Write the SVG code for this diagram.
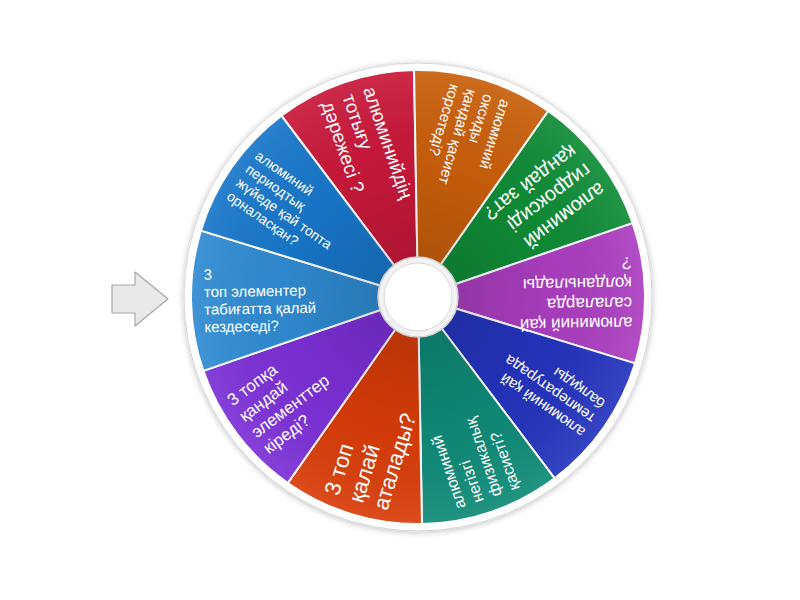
<svg xmlns="http://www.w3.org/2000/svg" width="800" height="600" viewBox="0 0 800 600">
<defs>
<radialGradient id="shade" cx="418" cy="297" r="227" gradientUnits="userSpaceOnUse">
<stop offset="0.15" stop-color="#000" stop-opacity="0.14"/>
<stop offset="0.6" stop-color="#000" stop-opacity="0.03"/>
<stop offset="1" stop-color="#fff" stop-opacity="0.08"/>
</radialGradient>
<filter id="shadow" x="-20%" y="-20%" width="140%" height="140%">
<feGaussianBlur in="SourceAlpha" stdDeviation="3"/>
<feOffset dx="0" dy="1" result="b"/>
<feComponentTransfer><feFuncA type="linear" slope="0.25"/></feComponentTransfer>
<feMerge><feMergeNode/><feMergeNode in="SourceGraphic"/></feMerge>
</filter>
</defs>
<style>
.seg{stroke:#fff;stroke-width:2;stroke-linejoin:round}
.t{font-family:"Liberation Sans",Arial,sans-serif;fill:#fff}
</style>
<rect width="800" height="600" fill="#fff"/>
<g id="pointer">
<path d="M112,285 L135,285 L135,272 L168,299 L135,326 L135,313 L112,313 Z" fill="#e9e9e9" stroke="#a8a8a8" stroke-width="1.2" stroke-linejoin="round"/>
</g>
<g id="rim">
<circle cx="418" cy="297" r="234" fill="#fff" stroke="#d6d6d6" stroke-width="1" filter="url(#shadow)"/>
</g>
<g id="segments">
<g id="seg-red"><path class="seg" fill="#c9183a" d="M418,297 L281.39,115.71 A227,227 0 0 1 414.04,70.03 Z"/></g>
<g id="seg-orange"><path class="seg" fill="#c95f0b" d="M418,297 L414.04,70.03 A227,227 0 0 1 548.20,111.05 Z"/></g>
<g id="seg-green"><path class="seg" fill="#0f8c37" d="M418,297 L548.20,111.05 A227,227 0 0 1 632.63,223.09 Z"/></g>
<g id="seg-purple"><path class="seg" fill="#ab3ec0" d="M418,297 L632.63,223.09 A227,227 0 0 1 635.08,363.37 Z"/></g>
<g id="seg-darkblue"><path class="seg" fill="#2434bd" d="M418,297 L635.08,363.37 A227,227 0 0 1 554.61,478.29 Z"/></g>
<g id="seg-teal"><path class="seg" fill="#0f8a77" d="M418,297 L554.61,478.29 A227,227 0 0 1 421.96,523.97 Z"/></g>
<g id="seg-redorange"><path class="seg" fill="#d83c08" d="M418,297 L421.96,523.97 A227,227 0 0 1 287.80,482.95 Z"/></g>
<g id="seg-violet"><path class="seg" fill="#7b30d6" d="M418,297 L287.80,482.95 A227,227 0 0 1 203.37,370.91 Z"/></g>
<g id="seg-lightblue"><path class="seg" fill="#2f8bd2" d="M418,297 L203.37,370.91 A227,227 0 0 1 200.92,230.63 Z"/></g>
<g id="seg-blue"><path class="seg" fill="#1877ca" d="M418,297 L200.92,230.63 A227,227 0 0 1 281.39,115.71 Z"/></g>
<circle cx="418" cy="297" r="226" fill="url(#shade)"/>
</g>
<g id="labels">
<g id="label-red" transform="translate(418,297) rotate(71)">
<text class="t" font-size="19" x="-214" y="-15.5">алюминийдің</text>
<text class="t" font-size="19" x="-214" y="6.5">тотығу</text>
<text class="t" font-size="19" x="-214" y="28.5">дәрежесі ?</text>
</g>
<g id="label-orange" transform="translate(418,297) rotate(107)">
<text class="t" font-size="15" x="-214" y="-21">алюминий</text>
<text class="t" font-size="15" x="-214" y="-3.5">оксиды</text>
<text class="t" font-size="15" x="-214" y="14">қандай қасиет</text>
<text class="t" font-size="15" x="-214" y="31.5">корсетеді?</text>
</g>
<g id="label-green" transform="translate(418,297) rotate(143)">
<text class="t" font-size="20" x="-214" y="-16.5">алюминий</text>
<text class="t" font-size="20" x="-214" y="7">гидроксиді</text>
<text class="t" font-size="20" x="-214" y="30.5">қандай зат?</text>
</g>
<g id="label-purple" transform="translate(418,297) rotate(179)">
<text class="t" font-size="17" x="-214" y="-24">алюминий қай</text>
<text class="t" font-size="17" x="-214" y="-4">салаларда</text>
<text class="t" font-size="17" x="-214" y="16">қолданылады</text>
<text class="t" font-size="17" x="-214" y="36">?</text>
</g>
<g id="label-darkblue" transform="translate(418,297) rotate(215)">
<text class="t" font-size="15" x="-214" y="-12.25">алюминий қай</text>
<text class="t" font-size="15" x="-214" y="5.25">температурада</text>
<text class="t" font-size="15" x="-214" y="22.75">балқиды</text>
</g>
<g id="label-teal" transform="translate(418,297) rotate(251)">
<text class="t" font-size="16" x="-214" y="-22.9">алюминий</text>
<text class="t" font-size="16" x="-214" y="-3.9">негізгі</text>
<text class="t" font-size="16" x="-214" y="15.1">физикалық</text>
<text class="t" font-size="16" x="-214" y="34.1">қасиеті?</text>
</g>
<g id="label-redorange" transform="translate(418,297) rotate(287)">
<text class="t" font-size="22" x="-214" y="-17.8">3 топ</text>
<text class="t" font-size="22" x="-214" y="7.7">қалай</text>
<text class="t" font-size="22" x="-214" y="33.2">аталады?</text>
</g>
<g id="label-violet" transform="translate(418,297) rotate(323)">
<text class="t" font-size="17" x="-214" y="-24">3 топқа</text>
<text class="t" font-size="17" x="-214" y="-4">қандай</text>
<text class="t" font-size="17" x="-214" y="16">элементтер</text>
<text class="t" font-size="17" x="-214" y="36">кіреді?</text>
</g>
<g id="label-lightblue" transform="translate(418,297) rotate(359)">
<text class="t" font-size="15" x="-214" y="-21">3</text>
<text class="t" font-size="15" x="-214" y="-3.5">топ элементер</text>
<text class="t" font-size="15" x="-214" y="14">табиғатта қалай</text>
<text class="t" font-size="15" x="-214" y="31.5">кездеседі?</text>
</g>
<g id="label-blue" transform="translate(418,297) rotate(35)">
<text class="t" font-size="14" x="-214" y="-19.85">алюминий</text>
<text class="t" font-size="14" x="-214" y="-3.35">периодтық</text>
<text class="t" font-size="14" x="-214" y="13.15">жүйеде қай топта</text>
<text class="t" font-size="14" x="-214" y="29.65">орналасқан?</text>
</g>
</g>
<g id="hub">
<circle cx="418" cy="297" r="40" fill="#f2f2f2" stroke="#cfcfcf" stroke-width="1.5"/>
<circle cx="418" cy="297" r="34" fill="#fff" stroke="#d9d9d9" stroke-width="1"/>
</g>
</svg>
